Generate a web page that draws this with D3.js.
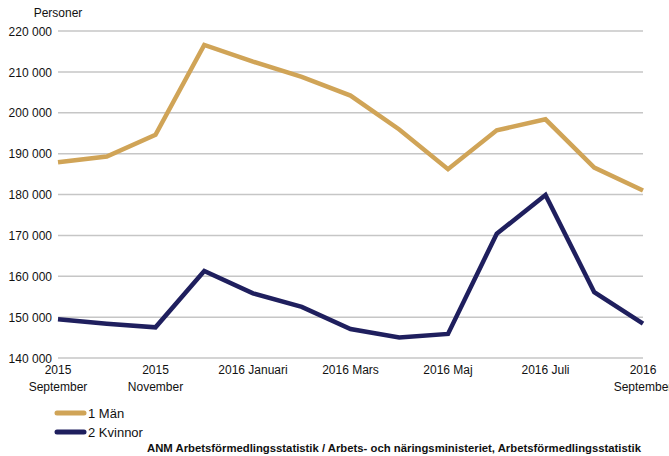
<!DOCTYPE html>
<html>
<head>
<meta charset="utf-8">
<script src="https://cdn.jsdelivr.net/npm/d3@7"></script>
<style>
  body { margin: 0; background: #fff; }
  svg { display: block; font-family: "Liberation Sans", Arial, sans-serif; }
</style>
</head>
<body>
<div id="chart"></div>
<script>
var months = ["2015-09", "2015-10", "2015-11", "2015-12", "2016-01", "2016-02", "2016-03",
  "2016-04", "2016-05", "2016-06", "2016-07", "2016-08", "2016-09"];
var man = [187900, 189300, 194600, 216600, 212500, 208800, 204200, 195900, 186200, 195700, 198400, 186600, 181000];
var kvinnor = [149500, 148400, 147500, 161300, 155800, 152500, 147100, 145000, 145900, 170400, 179900, 156100, 148400];
var tickLabels = {
  "2015-09": ["2015", "September"],
  "2015-11": ["2015", "November"],
  "2016-01": ["2016 Januari"],
  "2016-03": ["2016 Mars"],
  "2016-05": ["2016 Maj"],
  "2016-07": ["2016 Juli"],
  "2016-09": ["2016", "September"]
};
var yTicks = [140000, 150000, 160000, 170000, 180000, 190000, 200000, 210000, 220000];
var seriesNames = ["1 Män", "2 Kvinnor"];
var colors = ["#d0a457", "#1f1f5e"];

var W = 669, H = 456;
var margin = { top: 31, left: 58, right: 26, bottom: 98 };

var svg = d3.select("#chart").append("svg")
  .attr("width", W).attr("height", H);

var x = d3.scalePoint().domain(months).range([margin.left, W - margin.right]);
var y = d3.scaleLinear().domain([140000, 220000]).range([H - margin.bottom, margin.top]);

var fmt = function (d) { return d3.format(",")(d).replace(",", " "); };

// gridlines
svg.append("g")
  .selectAll("line")
  .data(yTicks)
  .enter()
  .append("line")
  .attr("x1", margin.left)
  .attr("x2", W - margin.right)
  .attr("y1", (d) => y(d))
  .attr("y2", (d) => y(d))
  .style("stroke", "#c6c6c6")
  .style("stroke-width", "1.5px");

// y axis labels
var yAxis = svg.append("g")
  .attr("transform", "translate(" + (margin.left - 6) + ",0)")
  .call(d3.axisLeft(y).tickValues(yTicks).tickSize(0).tickPadding(0).tickFormat(fmt));
yAxis.select(".domain").remove();
yAxis.selectAll("text")
  .style("font-size", "12px")
  .style("font-family", "Liberation Sans, Arial, sans-serif")
  .style("fill", "#111")
  .attr("dy", "0.35em");

svg.append("text")
  .attr("x", 58)
  .attr("y", 17)
  .attr("text-anchor", "middle")
  .style("font-size", "12px")
  .style("fill", "#111")
  .text("Personer");

// x axis labels
var xLab = svg.append("g")
  .selectAll("text")
  .data(months.filter((m) => tickLabels[m]))
  .enter()
  .append("text")
  .attr("x", (d) => x(d))
  .attr("y", 374)
  .attr("text-anchor", "middle")
  .style("font-size", "12px")
  .style("fill", "#111");
xLab.selectAll("tspan")
  .data((d) => tickLabels[d])
  .enter()
  .append("tspan")
  .attr("x", function () { return x(d3.select(this.parentNode).datum()); })
  .attr("dy", (d, i) => (i === 0 ? 0 : 17))
  .text((d) => d);

// lines
var line = d3.line()
  .x((d, i) => x(months[i]))
  .y((d) => y(d));

[man, kvinnor].forEach(function (s, i) {
  svg.append("path")
    .datum(s)
    .attr("fill", "none")
    .style("stroke", colors[i])
    .style("stroke-width", "4.5px")
    .style("stroke-linejoin", "miter")
    .attr("d", line);
});

// legend
var legend = svg.append("g")
  .selectAll("g")
  .data(seriesNames)
  .enter()
  .append("g")
  .attr("transform", (d, i) => "translate(57," + (413 + i * 19) + ")");
legend.append("line")
  .attr("x1", 0).attr("x2", 27)
  .attr("y1", 0).attr("y2", 0)
  .style("stroke", (d, i) => colors[i])
  .style("stroke-width", "5px")
  .style("stroke-linecap", "round");
legend.append("text")
  .attr("x", 31)
  .attr("dy", "0.35em")
  .style("font-size", "13px")
  .style("fill", "#111")
  .text((d) => d);

// footer
svg.append("text")
  .attr("x", 147)
  .attr("y", 452)
  .attr("text-anchor", "start")
  .attr("textLength", 494)
  .attr("lengthAdjust", "spacingAndGlyphs")
  .style("font-size", "11.3px")
  .style("font-weight", "bold")
  .style("fill", "#111")
  .text("ANM Arbetsförmedlingsstatistik / Arbets- och näringsministeriet, Arbetsförmedlingsstatistik");
</script>
</body>
</html>
